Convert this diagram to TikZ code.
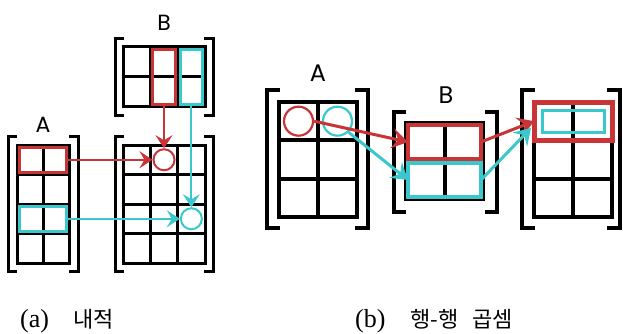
\documentclass[tikz,border=0pt]{standalone}
\usepackage{fontspec}
\newfontfamily\labfont{Poppins}
\newfontfamily\krfont{Noto Sans CJK KR}
\newfontfamily\serfont{Liberation Serif}
\usetikzlibrary{arrows.meta}
\definecolor{hired}{RGB}{201,52,55}
\definecolor{hicyan}{RGB}{58,200,204}

\tikzset{
  gridA/.style={draw=black, line width=3pt},
  gridB/.style={draw=black, line width=4pt},
  brkA/.style={draw=black, line width=3pt},
  brkB/.style={draw=black, line width=3.5pt},
  hiA/.style={draw=#1, line width=3pt, inner sep=0pt, outer sep=0pt},
  hiB/.style={draw=#1, line width=4pt, inner sep=0pt, outer sep=0pt},
  cirA/.style={draw=#1, circle, line width=2pt, minimum size=21pt, inner sep=0pt},
  cirB/.style={draw=#1, circle, line width=2.2pt, minimum size=29pt, inner sep=0pt},
  arrA/.style={draw=#1, line width=2.2pt, -{Stealth[length=13pt,width=17pt,inset=5pt]}},
  arrB/.style={draw=#1, line width=3pt, -{Stealth[length=16pt,width=20pt,inset=6pt]}},
  matlabA/.style={font=\labfont\fontsize{22}{22}\selectfont, inner sep=0pt},
  matlabB/.style={font=\labfont\fontsize{24}{24}\selectfont, inner sep=0pt},
  caption/.style={anchor=base west, inner sep=0pt, font=\fontsize{22}{22}\selectfont},
}

% a pair of square brackets: left x, right x, top y, bottom y, tick length, style
\newcommand{\bracketpair}[6]{%
  \draw[#6] ({#1+#5},#3) -- (#1,#3) -- (#1,#4) -- ({#1+#5},#4);
  \draw[#6] ({#2-#5},#3) -- (#2,#3) -- (#2,#4) -- ({#2-#5},#4);
}

\begin{document}
\begin{tikzpicture}[x=1pt,y=-1pt]
\useasboundingbox (0,0) rectangle (623,334);

% ---------------- (a) inner product ----------------
% A: 4 x 2
\draw[gridA] (17,145) rectangle (69,263);
\draw[gridA] (43,145) -- (43,263);
\foreach \k in {1,2,3} \draw[gridA] (17,{145+29.5*\k}) -- (69,{145+29.5*\k});
\bracketpair{8}{78}{136}{271}{9}{brkA}
\node[matlabA] (labAa) at (43,125) {A};

% B: 2 x 3
\draw[gridA] (123,47) rectangle (205,107);
\foreach \k in {1,2} \draw[gridA] ({123+27.333*\k},47) -- ({123+27.333*\k},107);
\draw[gridA] (123,77) -- (205,77);
\bracketpair{115}{213}{39}{116}{9}{brkA}
\node[matlabA] (labBa) at (164,23) {B};

% C: 4 x 3
\draw[gridA] (123,145) rectangle (205,263);
\foreach \k in {1,2} \draw[gridA] ({123+27.333*\k},145) -- ({123+27.333*\k},263);
\foreach \k in {1,2,3} \draw[gridA] (123,{145+29.5*\k}) -- (205,{145+29.5*\k});
\bracketpair{115}{213}{136}{271}{9}{brkA}

% highlighted rows of A and columns of B
\node[hiA=hired, minimum width=47pt, minimum height=24.5pt] (aRowR) at (43,159.75) {};
\node[hiA=hicyan, minimum width=47pt, minimum height=24.5pt] (aRowC) at (43,218.75) {};
\node[hiA=hired, minimum width=22.3pt, minimum height=55pt] (bColR) at (164,77) {};
\node[hiA=hicyan, minimum width=22.3pt, minimum height=55pt] (bColC) at (191.33,77) {};

% result entries
\node[cirA=hired] (cCirR) at (164,159.75) {};
\node[cirA=hicyan] (cCirC) at (191.33,218.75) {};

\draw[arrA=hired] (aRowR.east) -- (cCirR.west);
\draw[arrA=hired] (bColR.south) -- (cCirR.north);
\draw[arrA=hicyan] (bColC.south) -- (cCirC.north);
\draw[arrA=hicyan] (aRowC.east) -- (cCirC.west);

% ---------------- (b) row-row product ----------------
% A: 3 x 2
\draw[gridB] (279,102) rectangle (357,217);
\draw[gridB] (318,102) -- (318,217);
\foreach \k in {1,2} \draw[gridB] (279,{102+38.333*\k}) -- (357,{102+38.333*\k});
\bracketpair{267}{368}{90}{228}{13}{brkB}
\node[matlabB] (labAb) at (318,73) {A};

% B: 2 x 2
\draw[gridB] (406,123) rectangle (483,199);
\draw[gridB] (444.5,123) -- (444.5,199);
\draw[gridB] (406,161) -- (483,161);
\bracketpair{394}{497}{112}{212}{12}{brkB}
\node[matlabB] (labBb) at (446,95) {B};

% C: 3 x 2
\draw[gridB] (534,102) rectangle (612,217);
\draw[gridB] (573,102) -- (573,217);
\foreach \k in {1,2} \draw[gridB] (534,{102+38.333*\k}) -- (612,{102+38.333*\k});
\bracketpair{522}{620}{90}{228}{13}{brkB}

% scalars of A, rows of B, first row of C
\node[cirB=hired] (aCirR) at (298.5,121.17) {};
\node[cirB=hicyan] (aCirC) at (337.5,121.17) {};
\node[hiB=hired, minimum width=73pt, minimum height=34pt] (bRowR) at (444.5,142) {};
\node[hiB=hicyan, minimum width=73pt, minimum height=34pt] (bRowC) at (444.5,180) {};
\node[draw=hired, line width=5pt, inner sep=0pt, outer sep=0pt,
      minimum width=78pt, minimum height=38.33pt] (cRowR) at (573,121.17) {};
\node[draw=hicyan, line width=3pt, inner sep=0pt, outer sep=0pt,
      minimum width=62pt, minimum height=21pt] (cRowC) at (573,121.5) {};
\coordinate (cyTip) at (531,128);

\draw[arrB=hired] (aCirR.east) -- (bRowR.west);
\draw[arrB=hicyan] (aCirC.south east) -- (bRowC.west);
\draw[arrB=hired] (bRowR.east) -- (cRowR.west);
\draw[arrB=hicyan] (bRowC.east) -- (cyTip);

% ---------------- captions ----------------
\node[caption] (capA) at (20,327) {\makebox[35pt][l]{\serfont\fontsize{26}{26}\selectfont(a)}\hspace{18pt}\krfont 내적};
\node[caption] (capB) at (355,327) {\makebox[35pt][l]{\serfont\fontsize{26}{26}\selectfont(b)}\hspace{20pt}\krfont 행-행\hspace{14pt}곱셈};
\end{tikzpicture}
\end{document}
